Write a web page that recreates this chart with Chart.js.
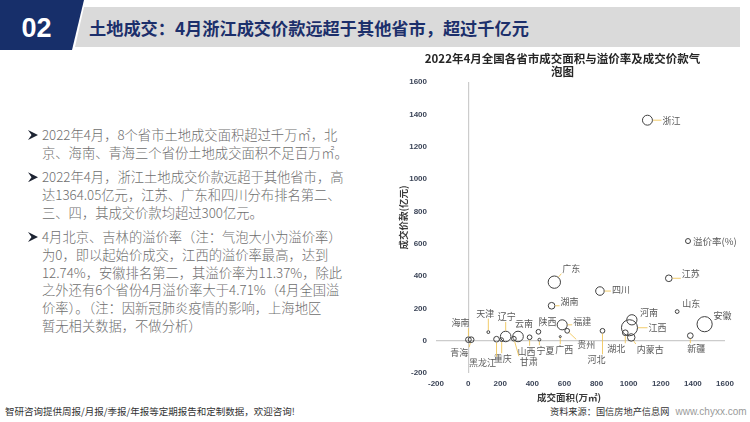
<!DOCTYPE html>
<html><head><meta charset="utf-8">
<script src="https://cdn.jsdelivr.net/npm/chart.js@4.4.0/dist/chart.umd.min.js"></script>
<style>
html,body{margin:0;padding:0;width:750px;height:422px;overflow:hidden;background:#fff;font-family:"Noto Sans CJK SC","Noto Sans",sans-serif;}
.abs{position:absolute;}
#navy{left:0;top:0;width:86px;height:50px;background:#172f6a;clip-path:polygon(0 0,84px 0,72px 50px,0 50px);}
#gray{left:0;top:7px;width:740px;height:40px;background:#dadada;clip-path:polygon(84px 0,740px 0,740px 40px,75px 40px);}
#num{left:0;top:10px;width:73px;text-align:center;color:#fff;font:bold 27px "Liberation Sans",Arial,sans-serif;line-height:36px;}
#ttl{left:89px;top:14px;color:#1c2f6b;font-weight:bold;font-size:17.2px;line-height:28px;white-space:nowrap;}
#txt{left:28px;top:126px;width:340px;color:#6e6e6e;font-size:13.3px;line-height:17.7px;white-space:nowrap;font-weight:300;}
#txt .p{position:relative;padding-left:14px;margin-bottom:6.8px;}
#txt .p::before{content:"";position:absolute;left:0;top:4px;width:10px;height:10px;background:#1e2433;clip-path:polygon(0 0,100% 50%,0 100%,35% 50%);}
#foot{left:5px;top:403px;font-size:9.5px;color:#333;white-space:nowrap;line-height:16px;}
#src{left:550px;top:403px;font-size:9.2px;color:#333;white-space:nowrap;line-height:16px;}
#src span{font-family:"Liberation Sans",Arial,sans-serif;font-size:10px;color:#9a9a9a;margin-left:6px;}
#cv{left:375px;top:48px;}
</style></head>
<body>
<div class="abs" id="navy"></div>
<div class="abs" id="gray"></div>
<div class="abs" id="num">02</div>
<div class="abs" id="ttl">土地成交：4月浙江成交价款远超于其他省市，超过千亿元</div>
<div class="abs" id="txt">
<div class="p">2022年4月，8个省市土地成交面积超过千万㎡，北<br>京、海南、青海三个省份土地成交面积不足百万㎡。</div>
<div class="p">2022年4月，浙江土地成交价款远超于其他省市，高<br>达1364.05亿元，江苏、广东和四川分布排名第二、<br>三、四，其成交价款均超过300亿元。</div>
<div class="p">4月北京、吉林的溢价率（注：气泡大小为溢价率）<br>为0，即以起始价成交，江西的溢价率最高，达到<br>12.74%，安徽排名第二，其溢价率为11.37%，除此<br>之外还有6个省份4月溢价率大于4.71%（4月全国溢<br>价率）。（注：因新冠肺炎疫情的影响，上海地区<br>暂无相关数据，不做分析）</div>
</div>
<div class="abs" id="foot">智研咨询提供周报/月报/季报/年报等定期报告和定制数据，欢迎咨询!</div>
<div class="abs" id="src">资料来源：国信房地产信息网<span>www.chyxx.com</span></div>
<canvas class="abs" id="cv" width="375" height="357"></canvas>
<script>
// ---- data ----
const categories = ['浙江','广东','江苏','四川','湖南','山东','安徽','新疆','河南','江西','湖北','内蒙古','河北','福建','贵州','陕西','宁夏','广西','山西','云南','甘肃','重庆','辽宁','黑龙江','天津','海南','青海'];
const landArea  = [1117,537,1250,821,520,1302,1473,1384,1020,1005,979,1016,837,586,617,438,444,574,383,311,285,209,234,177,126,2,19];   // 万㎡
const landPrice = [1364.05,362,386,307,216,180,102,31,129,80,49,20,61,98,61,55,6,25,21,26,12,6,26,9,53,6,6]; // 亿元
const premiumRate = [4.9,7.5,2.2,3.6,2.2,0.7,11.37,1.6,5.2,12.74,1.6,2.8,1.1,5.0,1.1,1.1,0.4,0.2,1.1,5.5,1.1,0.7,5.5,1.6,0.4,1.6,1.6]; // %
const xTickValues = [-200,0,200,400,600,800,1000,1200,1400,1600];
const yTickValues = [-200,0,200,400,600,800,1000,1200,1400,1600];
const chartTitle = ['2022年4月全国各省市成交面积与溢价率及成交价款气','泡图'];
const xTitle = '成交面积(万㎡)';
const yTitle = '成交价款(亿元)';
const legendLabel = '溢价率(%)';

// ---- label layout (pixel offsets of label centre from bubble centre) ----
const labelOffsets = {
 '浙江':[24,0],'广东':[17,-14],'江苏':[22,-5],'四川':[21,-1],'湖南':[18,-4],'山东':[14,-8],
 '安徽':[18,-9],'新疆':[6,13],'河南':[17,-7],'江西':[28,0],'湖北':[-9,16],'内蒙古':[19,12],
 '河北':[-6,29],'福建':[20,-3],'贵州':[19,14],'陕西':[9,-10],'宁夏':[6,11],'广西':[4,13],
 '山西':[-3,14],'云南':[6,-13],'甘肃':[15,23],'重庆':[1,19],'辽宁':[1,-20],'黑龙江':[-14,23],
 '天津':[-3,-19],'海南':[-8,-17],'青海':[-12,13]
};
const bubbleScale = 2.25;

const annot = {
  id:'annot',
  afterDatasetsDraw(chart){
    const ctx = chart.ctx, ca = chart.chartArea;
    const meta = chart.getDatasetMeta(0);
    ctx.save();
    ctx.font = '9px "Noto Sans CJK SC"';
    ctx.textAlign='center'; ctx.textBaseline='middle';
    meta.data.forEach((el,i)=>{
      const name = categories[i];
      const off = labelOffsets[name] || [0,-12];
      const px = el.x, py = el.y, r = el.options.radius;
      const lx = px+off[0], ly = py+off[1];
      const w = ctx.measureText(name).width, h = 9;
      const nx = Math.max(lx-w/2-1, Math.min(px, lx+w/2+1));
      const ny = Math.max(ly-h/2-1, Math.min(py, ly+h/2+1));
      const dx = nx-px, dy = ny-py, d = Math.hypot(dx,dy);
      if (d - r > 3){
        const sx = px + dx/d*(r+0.5), sy = py + dy/d*(r+0.5);
        ctx.strokeStyle='#f0c65a'; ctx.lineWidth=0.9;
        ctx.beginPath(); ctx.moveTo(sx,sy); ctx.lineTo(nx,ny); ctx.stroke();
      }
      ctx.fillStyle='#595959';
      ctx.fillText(name, lx, ly);
    });
    // axis titles
    ctx.fillStyle='#3a3a3a';
    ctx.font='bold 9.5px "Noto Sans CJK SC"';
    ctx.fillText(xTitle, ca.left+133, ca.bottom+24);
    ctx.save();
    ctx.translate(ca.left-33, (ca.top+ca.bottom)/2-10);
    ctx.rotate(-Math.PI/2);
    ctx.fillText(yTitle, 0, 0);
    ctx.restore();
    // legend
    const gx = ca.left+252, gy = ca.top+159;
    ctx.strokeStyle='#3f3f3f'; ctx.lineWidth=1;
    ctx.beginPath(); ctx.arc(gx, gy, 2.5, 0, Math.PI*2); ctx.stroke();
    ctx.fillStyle='#595959'; ctx.textAlign='left';
    ctx.font='9.5px "Noto Sans CJK SC"';
    ctx.fillText(legendLabel, gx+5, gy);
    ctx.restore();
  }
};

const zeroGrid = ctx => (ctx.tick && ctx.tick.value === 0) ? '#cccccc' : 'rgba(0,0,0,0)';
const tickFont = {family:'"Liberation Sans", Arial, sans-serif', size:8, weight:'bold'};
const plainTick = v => String(v);

new Chart(document.getElementById('cv'), {
  type:'bubble',
  data:{ datasets:[{
    label: legendLabel,
    data: categories.map((c,i)=>({x:landArea[i], y:landPrice[i], r: Math.max(1, bubbleScale*Math.sqrt(premiumRate[i]))})),
    backgroundColor:'rgba(0,0,0,0)',
    borderColor:'#3f3f3f',
    borderWidth:1,
    clip:false
  }]},
  options:{
    responsive:false, animation:false, devicePixelRatio:1,
    layout:{padding:0},
    plugins:{
      legend:{display:false}, tooltip:{enabled:false},
      title:{display:true, text:chartTitle, color:'#262626',
        font:{family:'"Noto Sans CJK SC"', size:11.5, weight:'bold', lineHeight:1.15},
        padding:{top:4,bottom:3.6}}
    },
    scales:{
      x:{type:'linear', min:-200, max:1600,
        afterBuildTicks:s=>{s.ticks = xTickValues.map(v=>({value:v}));},
        grid:{color:zeroGrid, lineWidth:1.2, drawTicks:false},
        border:{display:false},
        ticks:{font:tickFont, color:'#3c4558', padding:6, maxRotation:0, callback:plainTick},
        afterFit:s=>{s.height=32;}
      },
      y:{type:'linear', min:-200, max:1600,
        afterBuildTicks:s=>{s.ticks = yTickValues.map(v=>({value:v}));},
        grid:{color:zeroGrid, lineWidth:1.2, drawTicks:false},
        border:{display:false},
        ticks:{font:tickFont, color:'#3c4558', padding:9, callback:plainTick},
        afterFit:s=>{s.width=61;}
      },
      pad:{type:'linear', position:'right', display:true,
        ticks:{display:false}, grid:{display:false}, border:{display:false},
        afterFit:s=>{s.width=25;}
      }
    }
  },
  plugins:[annot]
});
</script>
</body></html>
